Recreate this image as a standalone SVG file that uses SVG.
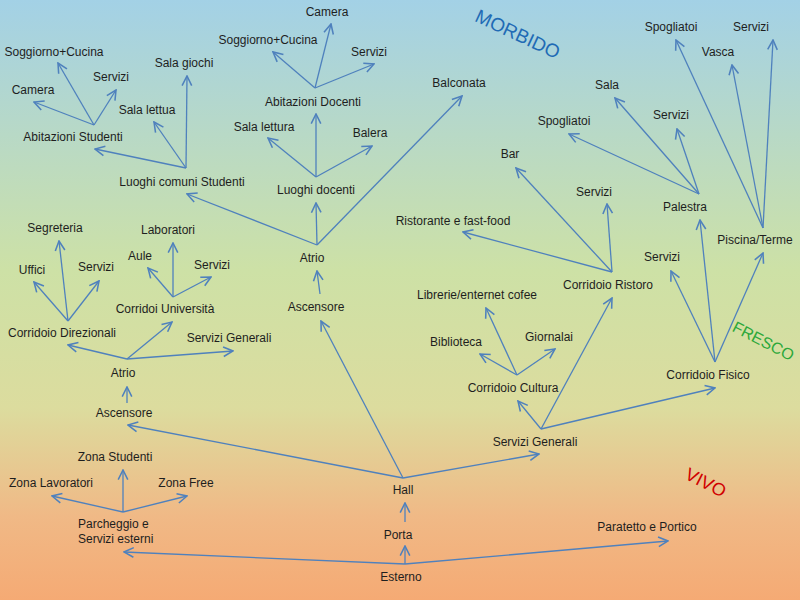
<svg xmlns="http://www.w3.org/2000/svg" width="800" height="600" viewBox="0 0 800 600">
<defs>
<linearGradient id="bg" x1="0" y1="0" x2="0" y2="1">
<stop offset="0" stop-color="#a3d1e6"/>
<stop offset="0.45" stop-color="#cde1a6"/>
<stop offset="0.68" stop-color="#dcdc9e"/>
<stop offset="0.86" stop-color="#f0b986"/>
<stop offset="1" stop-color="#f5aa74"/>
</linearGradient>
<marker id="ah" markerUnits="userSpaceOnUse" markerWidth="12" markerHeight="12" viewBox="0 0 10 10" refX="9" refY="5" orient="auto">
<path d="M1,1 L9,5 L1,9" fill="none" stroke="#4f81bd" stroke-width="1.3"/>
</marker>
</defs>
<style>
.t{font-family:"Liberation Sans",Arial,sans-serif;font-size:12px;fill:#1e1e1e;text-anchor:middle}
.c line{stroke:#4f81bd;stroke-width:1.3;marker-end:url(#ah)}
.z{font-family:"Liberation Sans",Arial,sans-serif;text-anchor:middle}
</style>
<rect width="800" height="600" fill="url(#bg)"/>

<g id="connectors" class="c">
<line x1="94" y1="125" x2="58" y2="63"/>
<line x1="94" y1="125" x2="116" y2="90"/>
<line x1="94" y1="125" x2="34" y2="102"/>
<line x1="186" y1="168" x2="95" y2="149"/>
<line x1="186" y1="168" x2="154" y2="122"/>
<line x1="186" y1="168" x2="187" y2="76"/>
<line x1="315" y1="88" x2="273" y2="52"/>
<line x1="315" y1="88" x2="331" y2="24"/>
<line x1="315" y1="88" x2="374" y2="64"/>
<line x1="316" y1="177" x2="268" y2="138"/>
<line x1="316" y1="177" x2="316" y2="114"/>
<line x1="316" y1="177" x2="372" y2="146"/>
<line x1="317" y1="245" x2="316" y2="203"/>
<line x1="317" y1="245" x2="187" y2="194"/>
<line x1="317" y1="245" x2="462" y2="96"/>
<line x1="320" y1="294" x2="317" y2="271"/>
<line x1="403" y1="478" x2="321" y2="321"/>
<line x1="403" y1="478" x2="128" y2="425"/>
<line x1="403" y1="478" x2="539" y2="454"/>
<line x1="405" y1="522" x2="405" y2="503"/>
<line x1="405" y1="564" x2="405" y2="546"/>
<line x1="405" y1="564" x2="124" y2="552"/>
<line x1="405" y1="564" x2="668" y2="541"/>
<line x1="123" y1="512" x2="123" y2="470"/>
<line x1="123" y1="512" x2="52" y2="496"/>
<line x1="123" y1="512" x2="187" y2="496"/>
<line x1="127" y1="403" x2="127" y2="387"/>
<line x1="127" y1="359" x2="68" y2="345"/>
<line x1="127" y1="359" x2="172" y2="322"/>
<line x1="127" y1="359" x2="233" y2="351"/>
<line x1="68" y1="321" x2="59" y2="241"/>
<line x1="68" y1="321" x2="34" y2="282"/>
<line x1="68" y1="321" x2="99" y2="281"/>
<line x1="173" y1="297" x2="148" y2="268"/>
<line x1="173" y1="297" x2="173" y2="243"/>
<line x1="173" y1="297" x2="211" y2="277"/>
<line x1="541" y1="429" x2="518" y2="401"/>
<line x1="541" y1="429" x2="612" y2="298"/>
<line x1="541" y1="429" x2="715" y2="388"/>
<line x1="517" y1="375" x2="486" y2="308"/>
<line x1="517" y1="375" x2="480" y2="354"/>
<line x1="517" y1="375" x2="555" y2="349"/>
<line x1="612" y1="272" x2="463" y2="232"/>
<line x1="612" y1="272" x2="516" y2="168"/>
<line x1="612" y1="272" x2="607" y2="204"/>
<line x1="715" y1="362" x2="671" y2="271"/>
<line x1="715" y1="362" x2="700" y2="220"/>
<line x1="715" y1="362" x2="763" y2="253"/>
<line x1="699" y1="194" x2="569" y2="134"/>
<line x1="699" y1="194" x2="615" y2="98"/>
<line x1="699" y1="194" x2="677" y2="129"/>
<line x1="763" y1="228" x2="676" y2="40"/>
<line x1="763" y1="228" x2="732" y2="65"/>
<line x1="763" y1="228" x2="773" y2="40"/>
</g>

<g id="n-camera-doc"><text class="t" x="327" y="16">Camera</text></g>
<g id="n-soggiorno-doc"><text class="t" x="268" y="44">Soggiorno+Cucina</text></g>
<g id="n-servizi-doc"><text class="t" x="369" y="56">Servizi</text></g>
<g id="n-abitazioni-docenti"><text class="t" x="313" y="106">Abitazioni Docenti</text></g>
<g id="n-sala-lettura"><text class="t" x="264" y="131">Sala lettura</text></g>
<g id="n-balera"><text class="t" x="370" y="137">Balera</text></g>
<g id="n-luoghi-docenti"><text class="t" x="316" y="194">Luoghi docenti</text></g>
<g id="n-soggiorno-stu"><text class="t" x="54" y="56">Soggiorno+Cucina</text></g>
<g id="n-servizi-stu"><text class="t" x="111" y="81">Servizi</text></g>
<g id="n-camera-stu"><text class="t" x="33" y="94">Camera</text></g>
<g id="n-sala-giochi"><text class="t" x="184" y="67">Sala giochi</text></g>
<g id="n-sala-lettua"><text class="t" x="147" y="114">Sala lettua</text></g>
<g id="n-abitazioni-studenti"><text class="t" x="73" y="141">Abitazioni Studenti</text></g>
<g id="n-luoghi-comuni"><text class="t" x="182" y="186">Luoghi comuni Studenti</text></g>
<g id="n-atrio-c"><text class="t" x="312" y="262">Atrio</text></g>
<g id="n-ascensore-c"><text class="t" x="316" y="311">Ascensore</text></g>
<g id="n-balconata"><text class="t" x="459" y="87">Balconata</text></g>

<g id="n-spogliatoi-top"><text class="t" x="671" y="31">Spogliatoi</text></g>
<g id="n-servizi-top"><text class="t" x="751" y="31">Servizi</text></g>
<g id="n-vasca"><text class="t" x="718" y="56">Vasca</text></g>
<g id="n-sala"><text class="t" x="607" y="89">Sala</text></g>
<g id="n-servizi-pal"><text class="t" x="671" y="119">Servizi</text></g>
<g id="n-spogliatoi-mid"><text class="t" x="564" y="125">Spogliatoi</text></g>
<g id="n-bar"><text class="t" x="510" y="158">Bar</text></g>
<g id="n-servizi-ris"><text class="t" x="594" y="196">Servizi</text></g>
<g id="n-palestra"><text class="t" x="685" y="211">Palestra</text></g>
<g id="n-piscina"><text class="t" x="755" y="244">Piscina/Terme</text></g>
<g id="n-servizi-fis"><text class="t" x="662" y="261">Servizi</text></g>
<g id="n-ristorante"><text class="t" x="453" y="225">Ristorante e fast-food</text></g>
<g id="n-corridoio-ristoro"><text class="t" x="608" y="289">Corridoio Ristoro</text></g>
<g id="n-librerie"><text class="t" x="477" y="299">Librerie/enternet cofee</text></g>
<g id="n-biblioteca"><text class="t" x="456" y="346">Biblioteca</text></g>
<g id="n-giornalai"><text class="t" x="549" y="341">Giornalai</text></g>
<g id="n-corridoio-cultura"><text class="t" x="513" y="392">Corridoio Cultura</text></g>
<g id="n-corridoio-fisico"><text class="t" x="708" y="379">Corridoio Fisico</text></g>
<g id="n-servizi-generali-r"><text class="t" x="535" y="446">Servizi Generali</text></g>

<g id="n-segreteria"><text class="t" x="55" y="232">Segreteria</text></g>
<g id="n-uffici"><text class="t" x="32" y="274">Uffici</text></g>
<g id="n-servizi-dir"><text class="t" x="96" y="271">Servizi</text></g>
<g id="n-laboratori"><text class="t" x="168" y="234">Laboratori</text></g>
<g id="n-aule"><text class="t" x="140" y="260">Aule</text></g>
<g id="n-servizi-uni"><text class="t" x="212" y="269">Servizi</text></g>
<g id="n-corridoi-universita"><text class="t" x="165" y="313">Corridoi Università</text></g>
<g id="n-corridoio-direzionali"><text class="t" x="62" y="337">Corridoio Direzionali</text></g>
<g id="n-servizi-generali-l"><text class="t" x="229" y="342">Servizi Generali</text></g>
<g id="n-atrio-l"><text class="t" x="123" y="377">Atrio</text></g>
<g id="n-ascensore-l"><text class="t" x="124" y="417">Ascensore</text></g>

<g id="n-zona-studenti"><text class="t" x="115" y="461">Zona Studenti</text></g>
<g id="n-zona-lavoratori"><text class="t" x="51" y="487">Zona Lavoratori</text></g>
<g id="n-zona-free"><text class="t" x="186" y="487">Zona Free</text></g>
<g id="n-parcheggio"><text class="t" style="text-anchor:start" x="78" y="528">Parcheggio e<tspan x="78" y="543">Servizi esterni</tspan></text></g>
<g id="n-hall"><text class="t" x="403" y="494">Hall</text></g>
<g id="n-porta"><text class="t" x="398" y="539">Porta</text></g>
<g id="n-esterno"><text class="t" x="401" y="581">Esterno</text></g>
<g id="n-paratetto"><text class="t" x="647" y="531">Paratetto e Portico</text></g>

<g id="zones">
<text class="z" transform="translate(515,40) rotate(25)" font-size="19" fill="#1f6bb5">MORBIDO</text>
<text class="z" transform="translate(761,346) rotate(27)" font-size="16" fill="#2ca83a">FRESCO</text>
<text class="z" transform="translate(703,488) rotate(27)" font-size="18" fill="#d00000">VIVO</text>
</g>
</svg>
